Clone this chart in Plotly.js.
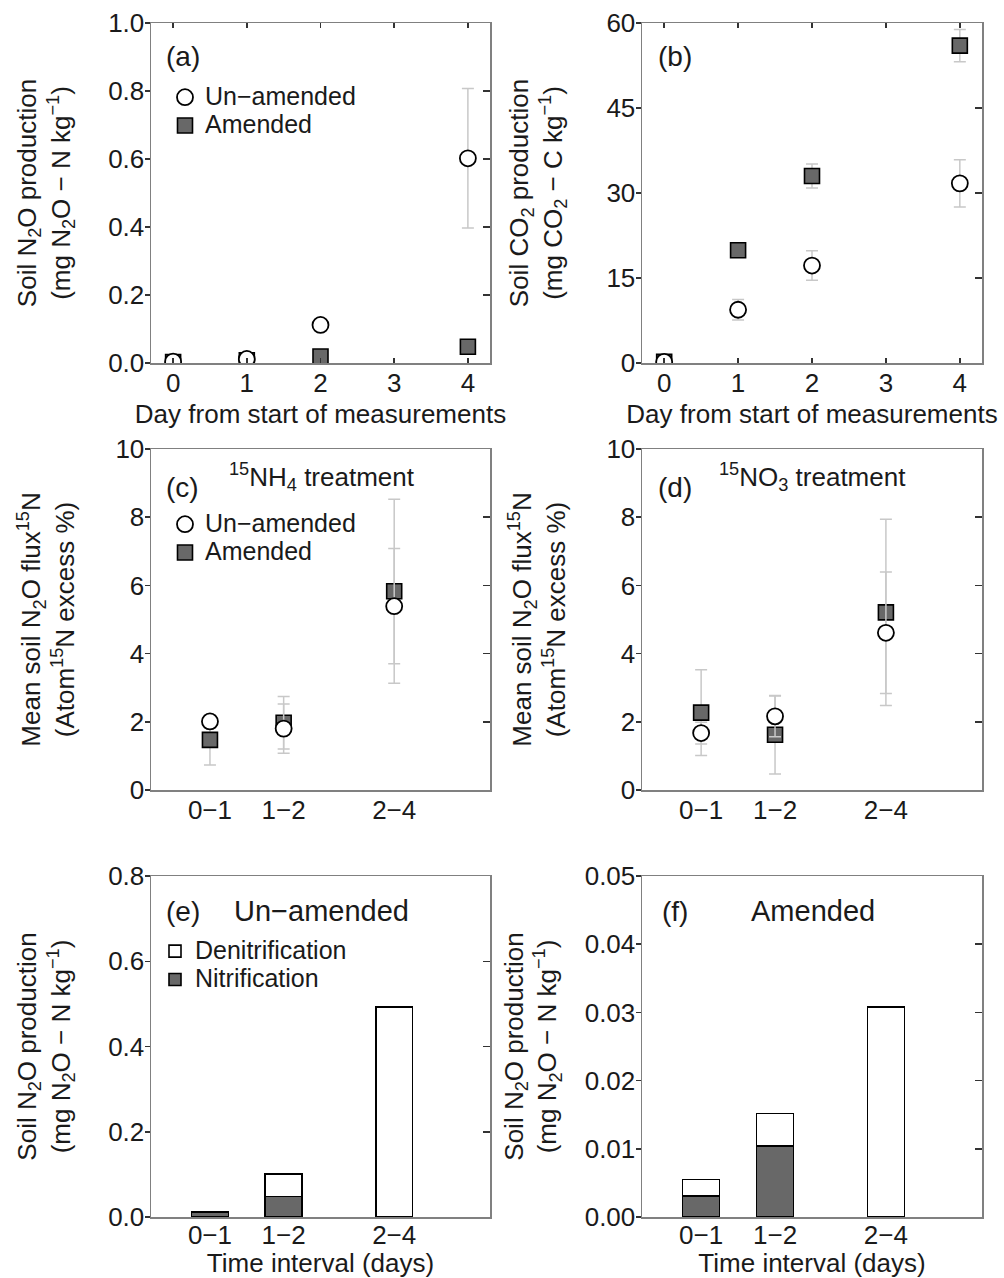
<!DOCTYPE html>
<html>
<head>
<meta charset="utf-8">
<script src="https://cdn.plot.ly/plotly-3.0.1.min.js"></script>
<style>html,body{margin:0;padding:0;background:#fff;}#chart{width:1004px;height:1278px;}</style>
</head>
<body>
<div id="chart"></div>
<script>
// ---------- data ----------
const days = [0, 1, 2, 4];
const dayTicks = [0, 1, 2, 3, 4];

const aUnamended = [0.004, 0.012, 0.112, 0.602];
const aUnamendedErr = [0.002, 0.004, 0.010, 0.205];
const aAmended = [0.003, 0.008, 0.019, 0.048];
const aAmendedErr = [0.001, 0.002, 0.004, 0.006];

const bUnamended = [0.2, 9.4, 17.2, 31.7];
const bUnamendedErr = [0.3, 1.8, 2.6, 4.15];
const bAmended = [0.2, 19.9, 33.0, 56.0];
const bAmendedErr = [0.2, 0.8, 2.1, 2.85];

const intervals = [0.5, 1.5, 3];
const intervalLabels = ['0\u22121', '1\u22122', '2\u22124'];

const cUnamended = [2.01, 1.80, 5.39];
const cUnamendedErr = [0.2, 0.72, 1.69];
const cAmended = [1.47, 1.97, 5.83];
const cAmendedErr = [0.74, 0.77, 2.70];

const dUnamended = [1.67, 2.16, 4.61];
const dUnamendedErr = [0.32, 0.6, 1.78];
const dAmended = [2.27, 1.62, 5.21];
const dAmendedErr = [1.26, 1.15, 2.73];

const eNitrification = [0.012, 0.048, 0];
const eDenitrification = [0, 0.053, 0.492];
const fNitrification = [0.0031, 0.0104, 0];
const fDenitrification = [0.0024, 0.0048, 0.0308];

const seriesNames = ['Un\u2212amended', 'Amended'];
const pathwayNames = ['Denitrification', 'Nitrification'];

// ---------- styles ----------
const FONT = 'Liberation Sans, Arial, Helvetica, sans-serif';
const TXT = '#1a1a1a';
const ERRC = '#c8c8c8';
const GREY = '#686868';
const W = 1004, H = 1278;
const px = v => v / W;
const py = v => 1 - v / H;
const big = s => '<span style="font-size:25px">' + s + '</span>';

function circleTrace(x, y, err, xa, ya, legend, show) {
  return {type: 'scatter', mode: 'markers', x: x, y: y, xaxis: xa, yaxis: ya,
    name: big(seriesNames[0]), legend: legend, showlegend: show, legendrank: 1,
    marker: {symbol: 'circle', size: 16, color: '#ffffff', line: {color: '#000', width: 1.8}},
    error_y: {type: 'data', array: err, visible: true, color: ERRC, thickness: 1.5, width: 6},
    hoverinfo: 'x+y'};
}
function squareTrace(x, y, err, xa, ya, legend, show) {
  return {type: 'scatter', mode: 'markers', x: x, y: y, xaxis: xa, yaxis: ya,
    name: big(seriesNames[1]), legend: legend, showlegend: show, legendrank: 2,
    marker: {symbol: 'square', size: 15, color: GREY, line: {color: '#000', width: 1.6}},
    error_y: {type: 'data', array: err, visible: true, color: ERRC, thickness: 1.5, width: 6},
    hoverinfo: 'x+y'};
}
function barTrace(x, y, name, color, xa, ya, legend, show, rank) {
  return {type: 'bar', x: x, y: y, xaxis: xa, yaxis: ya, width: 0.5, name: big(name),
    legend: legend, showlegend: show, legendrank: rank,
    marker: {color: color, line: {color: '#000', width: 1.6}}, hoverinfo: 'x+y'};
}
function emptyTrace(xa, ya) {
  return {type: 'scatter', mode: 'markers', x: [], y: [], xaxis: xa, yaxis: ya, showlegend: false, hoverinfo: 'skip'};
}

const data = [
  squareTrace(days, aAmended, aAmendedErr, 'x', 'y', 'legend', true),
  circleTrace(days, aUnamended, aUnamendedErr, 'x', 'y', 'legend', true),
  squareTrace(days, bAmended, bAmendedErr, 'x2', 'y2', 'legend', false),
  circleTrace(days, bUnamended, bUnamendedErr, 'x2', 'y2', 'legend', false),
  squareTrace(intervals, cAmended, cAmendedErr, 'x3', 'y3', 'legend2', true),
  circleTrace(intervals, cUnamended, cUnamendedErr, 'x3', 'y3', 'legend2', true),
  squareTrace(intervals, dAmended, dAmendedErr, 'x4', 'y4', 'legend2', false),
  circleTrace(intervals, dUnamended, dUnamendedErr, 'x4', 'y4', 'legend2', false),
  barTrace(intervals, eNitrification, pathwayNames[1], GREY, 'x5', 'y5', 'legend3', true, 2),
  barTrace(intervals, eDenitrification, pathwayNames[0], '#ffffff', 'x5', 'y5', 'legend3', true, 1),
  barTrace(intervals, fNitrification, pathwayNames[1], GREY, 'x6', 'y6', 'legend3', false, 2),
  barTrace(intervals, fDenitrification, pathwayNames[0], '#ffffff', 'x6', 'y6', 'legend3', false, 1),
  emptyTrace('x7', 'y7'),
  emptyTrace('x8', 'y8'),
  emptyTrace('x3', 'y9'),
  emptyTrace('x4', 'y10'),
  emptyTrace('x5', 'y11'),
  emptyTrace('x6', 'y12')
];

// ---------- axes ----------
const tickFont = {family: FONT, size: 26, color: TXT};
const titleFont = {family: FONT, size: 26, color: TXT};
const colL = [px(151), px(490)];
const colR = [px(642), px(982)];
const row1 = [py(363), py(23)];
const row2 = [py(790), py(449)];
const row3 = [py(1217), py(876)];
const XR = [-0.3, 4.3];

function mainX(domain, anchor, opts) {
  return Object.assign({domain: domain, anchor: anchor, range: XR, showgrid: false, zeroline: false,
    showline: true, mirror: true, linecolor: '#808080', linewidth: 1.5,
    tickfont: tickFont, ticklabelstandoff: -4, automargin: false, fixedrange: true}, opts);
}
function mainY(domain, anchor, opts) {
  return Object.assign({domain: domain, anchor: anchor, showgrid: false, zeroline: false,
    showline: true, mirror: true, linecolor: '#808080', linewidth: 1.5,
    ticks: 'outside', ticklen: 5, tickwidth: 1.5, tickcolor: '#333',
    tickfont: tickFont, ticklabelstandoff: -5, automargin: false, fixedrange: true}, opts);
}
function rightY(over, anchor, range, dtick) {
  return {overlaying: over, anchor: anchor, side: 'right', range: range, dtick: dtick,
    ticks: 'inside', ticklen: 7, tickwidth: 1.5, tickcolor: '#333', showticklabels: false,
    showgrid: false, zeroline: false, showline: false, automargin: false, fixedrange: true};
}
function topX(over, anchor) {
  return {overlaying: over, anchor: anchor, side: 'top', range: XR, tickvals: dayTicks,
    ticks: 'inside', ticklen: 5, tickwidth: 1.5, tickcolor: '#333', showticklabels: false,
    showgrid: false, zeroline: false, showline: false, automargin: false, fixedrange: true};
}

const dayTitle = {text: 'Day from start of measurements', font: titleFont, standoff: 8};
const intTitle = {text: 'Time interval (days)', font: titleFont, standoff: 18};
const n2oText = 'Soil N<sub>2</sub>O production<br>(mg N<sub>2</sub>O \u2212 N kg<sup>\u22121</sup>)';
const co2Text = 'Soil CO<sub>2</sub> production<br>(mg CO<sub>2</sub> \u2212 C kg<sup>\u22121</sup>)';
const fluxText = 'Mean soil N<sub>2</sub>O flux<sup>15</sup>N<br>(Atom<sup>15</sup>N excess %)';
const yTitle = (t, s) => ({text: t, font: titleFont, standoff: s});

const dayXOpts = {tickvals: dayTicks, ticks: 'inside', ticklen: 5, tickwidth: 1.5, tickcolor: '#333', title: dayTitle};
const intXOpts = {tickvals: intervals, ticktext: intervalLabels, ticks: ''};
const intXTitled = {tickvals: intervals, ticktext: intervalLabels, ticks: '', ticklabelstandoff: -6, title: intTitle};

const legendBase = {xanchor: 'left', yanchor: 'top', bgcolor: 'rgba(0,0,0,0)',
  font: {family: FONT, size: 19.5, color: TXT}, tracegroupgap: 0, traceorder: 'normal'};

const ann = (text, x, y, size) => ({text: text, x: px(x), y: py(y), xref: 'paper', yref: 'paper',
  xanchor: 'left', yanchor: 'middle', showarrow: false, font: {family: FONT, size: size, color: TXT}});

const layout = {
  width: W, height: H,
  margin: {l: 0, r: 0, t: 0, b: 0},
  paper_bgcolor: '#ffffff', plot_bgcolor: '#ffffff',
  font: {family: FONT, color: TXT},
  barmode: 'stack',
  showlegend: true,
  xaxis: mainX(colL, 'y', dayXOpts),
  yaxis: mainY(row1, 'x', {range: [0, 1], dtick: 0.2, tickformat: '.1f', title: yTitle(n2oText, 30)}),
  xaxis2: mainX(colR, 'y2', dayXOpts),
  yaxis2: mainY(row1, 'x2', {range: [0, 60], dtick: 15, title: yTitle(co2Text, 36)}),
  xaxis3: mainX(colL, 'y3', intXOpts),
  yaxis3: mainY(row2, 'x3', {range: [0, 10], dtick: 2, title: yTitle(fluxText, 33)}),
  xaxis4: mainX(colR, 'y4', intXOpts),
  yaxis4: mainY(row2, 'x4', {range: [0, 10], dtick: 2, title: yTitle(fluxText, 33)}),
  xaxis5: mainX(colL, 'y5', intXTitled),
  yaxis5: mainY(row3, 'x5', {range: [0, 0.8], dtick: 0.2, tickformat: '.1f', title: yTitle(n2oText, 30)}),
  xaxis6: mainX(colR, 'y6', intXTitled),
  yaxis6: mainY(row3, 'x6', {range: [0, 0.05], dtick: 0.01, tickformat: '.2f', title: yTitle(n2oText, 20)}),
  xaxis7: topX('x', 'y7'),
  yaxis7: rightY('y', 'x7', [0, 1], 0.2),
  xaxis8: topX('x2', 'y8'),
  yaxis8: rightY('y2', 'x8', [0, 60], 15),
  yaxis9: rightY('y3', 'x3', [0, 10], 2),
  yaxis10: rightY('y4', 'x4', [0, 10], 2),
  yaxis11: rightY('y5', 'x5', [0, 0.8], 0.2),
  yaxis12: rightY('y6', 'x6', [0, 0.05], 0.01),
  legend: Object.assign({x: px(165), y: py(78)}, legendBase),
  legend2: Object.assign({x: px(165), y: py(505)}, legendBase),
  legend3: Object.assign({x: px(155), y: py(932)}, legendBase),
  annotations: [
    ann('(a)', 164, 57, 28),
    ann('(b)', 656, 57, 28),
    ann('(c)', 164, 487, 28),
    ann('<sup>15</sup>NH<sub>4</sub> treatment', 227, 477, 26),
    ann('(d)', 656, 487, 28),
    ann('<sup>15</sup>NO<sub>3</sub> treatment', 717, 477, 26),
    ann('(e)', 164, 911, 28),
    ann('Un\u2212amended', 232, 911, 29),
    ann('(f)', 660, 911, 28),
    ann('Amended', 749, 911, 29)
  ]
};

Plotly.newPlot('chart', data, layout, {displayModeBar: false, staticPlot: true});
</script>
</body>
</html>
